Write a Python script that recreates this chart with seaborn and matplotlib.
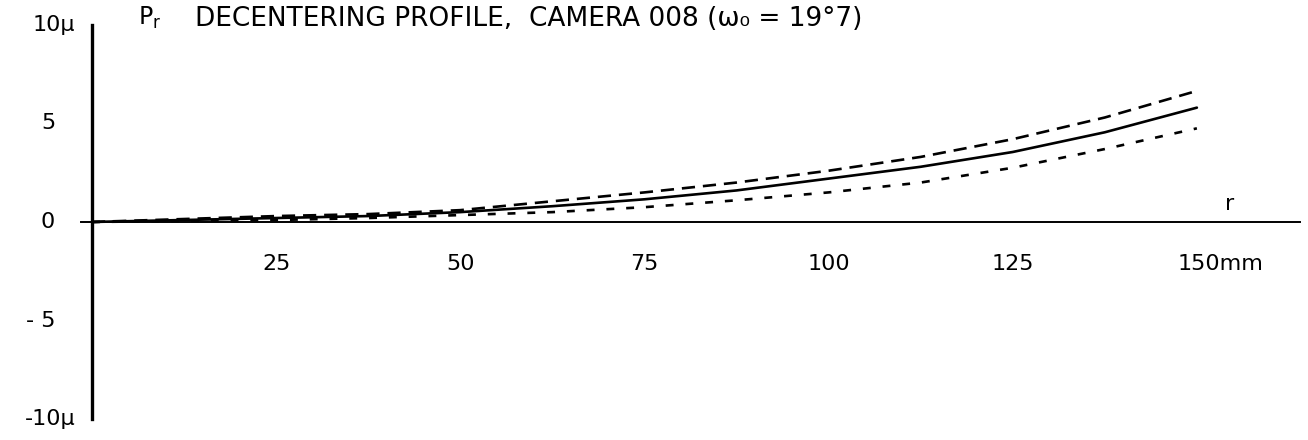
import numpy as np
import pandas as pd
import matplotlib
matplotlib.use("Agg")
import matplotlib.pyplot as plt
import seaborn as sns

# ---- data ----
r_mm = [0, 12.5, 25, 37.5, 50, 62.5, 75, 87.5, 100, 112.5, 125, 137.5, 150]
p_upper = [0.0, 0.15, 0.3, 0.4, 0.6, 1.05, 1.5, 2.0, 2.6, 3.3, 4.2, 5.3, 6.65]
p_mean = [0.0, 0.1, 0.2, 0.3, 0.5, 0.8, 1.15, 1.6, 2.2, 2.8, 3.55, 4.55, 5.8]
p_lower = [0.0, 0.05, 0.1, 0.2, 0.35, 0.5, 0.75, 1.1, 1.5, 2.0, 2.75, 3.7, 4.75]
x_ticks = [25, 50, 75, 100, 125, 150]
x_tick_labels = ["25", "50", "75", "100", "125", ""]
y_ticks = [10, 5, 0, -5, -10]
y_tick_labels = ["10\u03bc", "5", "0", "- 5", "-10\u03bc"]
title_text = "DECENTERING PROFILE,  CAMERA 008 (\u03c9\u2080 = 19\u00b07)"

df = pd.DataFrame({
    "r": r_mm * 3,
    "P": p_upper + p_mean + p_lower,
    "curve": ["upper"] * len(r_mm) + ["mean"] * len(r_mm) + ["lower"] * len(r_mm),
})

sns.set_style("white")
plt.rcParams["font.family"] = ["DejaVu Sans"]
plt.rcParams["text.color"] = "black"
plt.rcParams["xtick.color"] = "black"
plt.rcParams["ytick.color"] = "black"

fig = plt.figure(figsize=(13.08, 4.4), dpi=100)
ax = fig.add_axes([77.3 / 1308, 15 / 440, (1300 - 77.3) / 1308, 410 / 440])

sns.lineplot(data=df, x="r", y="P", hue="curve", style="curve",
             palette={"upper": "black", "mean": "black", "lower": "black"},
             dashes={"upper": (5, 3), "mean": "", "lower": (3, 4.5)},
             hue_order=["upper", "mean", "lower"],
             linewidth=1.9, legend=False, ax=ax)

ax.set_xlim(-2, 164)
ax.set_ylim(-10.3, 10.5)

for s in ["top", "right"]:
    ax.spines[s].set_visible(False)
ax.spines["left"].set_position(("data", 0))
ax.spines["left"].set_bounds(-10, 10)
ax.spines["left"].set_linewidth(2.4)
ax.spines["bottom"].set_position(("data", 0))
ax.spines["bottom"].set_bounds(-1.5, 164)
ax.spines["bottom"].set_linewidth(1.4)
for s in ["left", "bottom"]:
    ax.spines[s].set_color("black")

ax.set_xticks(x_ticks)
ax.set_xticklabels(x_tick_labels, fontsize=16, color="black")
ax.tick_params(axis="x", direction="inout", length=16, width=1.6, pad=15, colors="black")
ax.set_yticks(y_ticks)
ax.set_yticklabels([])
ax.tick_params(axis="y", direction="inout", length=18, width=1.6, colors="black")
ax.set_xlabel("")
ax.set_ylabel("")

# y tick labels placed as text
y_label_x = [-2.3, -5.0, -5.0, -5.0, -2.3]
for yv, lab, xv in zip(y_ticks, y_tick_labels, y_label_x):
    ax.text(xv, yv, lab, ha="right", va="center", fontsize=16,
            color="black", clip_on=False)

ax.text(147.4, -1.6, "150mm", ha="left", va="top", fontsize=16, color="black")

ax.text(6.2, 10.35, "P$_{\\mathrm{r}}$", ha="left", va="center", fontsize=17, color="black")
ax.text(14.0, 10.3, title_text, ha="left", va="center", fontsize=19, color="black")
ax.text(154.5, 0.9, "r", ha="center", va="center", fontsize=16, color="black")

fig.savefig("out.png", dpi=100)
